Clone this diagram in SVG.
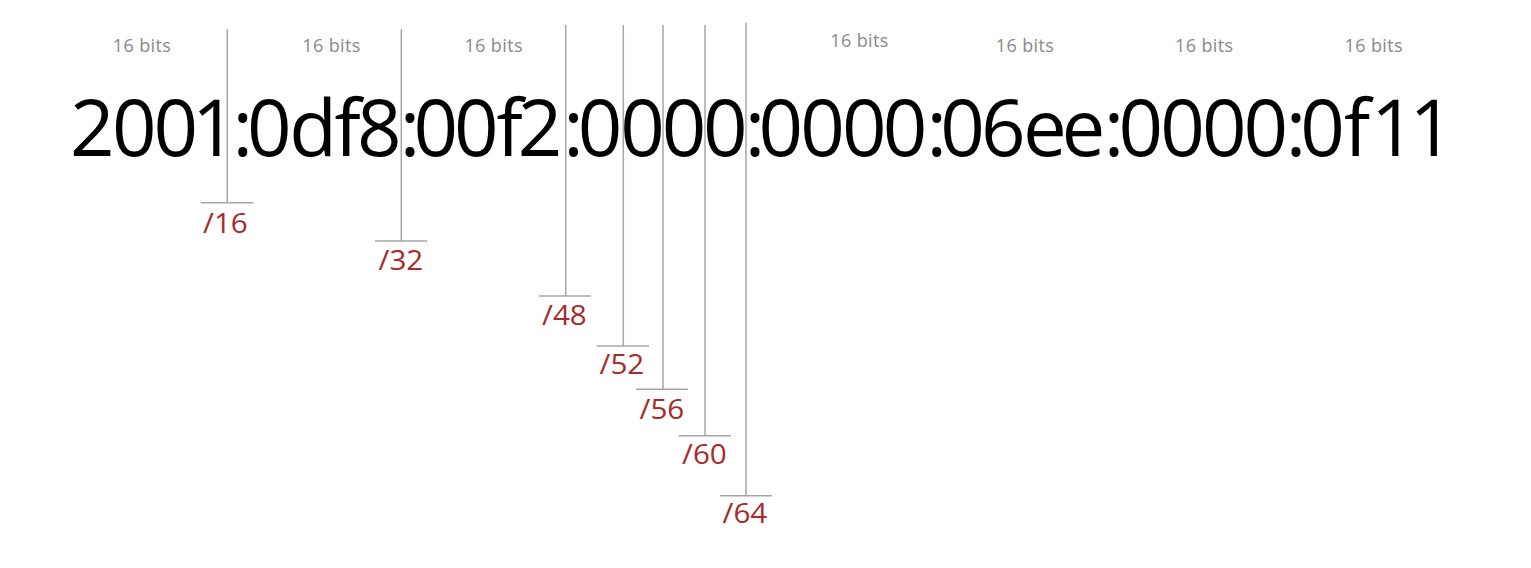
<svg xmlns="http://www.w3.org/2000/svg" width="1531" height="568" viewBox="0 0 1531 568">
<style>
.addr{font-family:"Open Sans","Noto Sans",sans-serif;font-size:78px;fill:#000;text-anchor:middle}
.bits{font-family:"Open Sans","Noto Sans",sans-serif;font-size:18px;fill:#8a8a8a;text-anchor:middle;letter-spacing:0.4px}
.pfx{font-family:"Open Sans","Noto Sans",sans-serif;font-size:26.5px;fill:#a82a2a}
.ln{stroke:#a6a6a6;stroke-width:1.5;fill:none}
</style>
<rect width="1531" height="568" fill="#fff"/>
<g id="bit-labels">
<text class="bits" x="142" y="52.3">16 bits</text>
<text class="bits" x="331.5" y="52.3">16 bits</text>
<text class="bits" x="493.7" y="52.3">16 bits</text>
<text class="bits" x="859.5" y="47.3">16 bits</text>
<text class="bits" x="1025" y="51.7">16 bits</text>
<text class="bits" x="1204.3" y="51.7">16 bits</text>
<text class="bits" x="1373.8" y="51.7">16 bits</text>
</g>
<g id="address">
<text class="addr" y="156" x="92.3 134.2 175.8 214.2 242.7 269.2 313 347.7 379.2 410 435.8 476.3 509.7 540 573.5 600 642.5 684 725.3 755 780.8 822.5 864.2 905 936.7 962.5 1003.3 1045 1083.3 1114 1140.8 1182.5 1224.2 1265.8 1296 1322.5 1357 1393.4 1431.7">2001:0df8:00f2:0000:0000:06ee:0000:0f11</text>
</g>
<g id="connectors">
<g id="prefix-16">
<path class="ln" d="M227.3 29.3V202.7M200.7 202.7H253.3"/>
<text class="pfx" transform="translate(203,233) scale(1.12,1)">/16</text>
</g>
<g id="prefix-32">
<path class="ln" d="M401.3 29.3V241M375 241H427.3"/>
<text class="pfx" transform="translate(378.5,270.3) scale(1.12,1)">/32</text>
</g>
<g id="prefix-48">
<path class="ln" d="M565.7 25V296M539 296H590.7"/>
<text class="pfx" transform="translate(542,324.5) scale(1.12,1)">/48</text>
</g>
<g id="prefix-52">
<path class="ln" d="M623.3 25V346M596.7 346H649"/>
<text class="pfx" transform="translate(599.5,373.5) scale(1.12,1)">/52</text>
</g>
<g id="prefix-56">
<path class="ln" d="M663 25V389.3M636 389.3H688"/>
<text class="pfx" transform="translate(639.5,418.5) scale(1.12,1)">/56</text>
</g>
<g id="prefix-60">
<path class="ln" d="M705 25V435.7M678.7 435.7H731"/>
<text class="pfx" transform="translate(682,463.5) scale(1.12,1)">/60</text>
</g>
<g id="prefix-64">
<path class="ln" d="M746 22.7V495.7M720 495.7H772"/>
<text class="pfx" transform="translate(722.5,523) scale(1.12,1)">/64</text>
</g>
</g>
</svg>
